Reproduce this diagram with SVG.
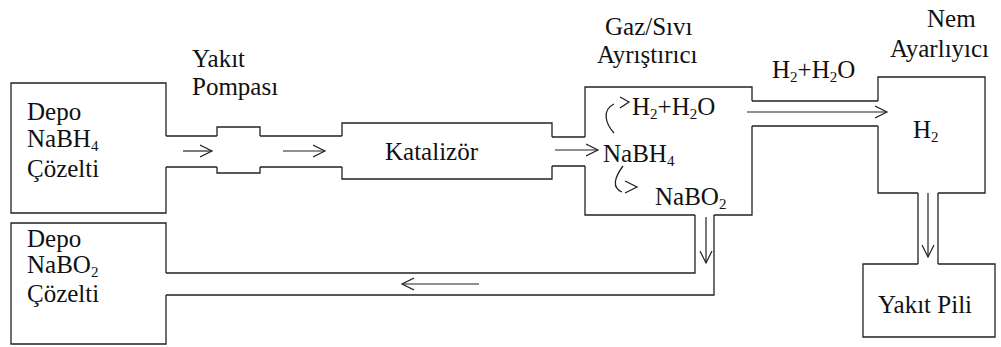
<svg xmlns="http://www.w3.org/2000/svg" width="1001" height="347" viewBox="0 0 1001 347">
  <style>
    .edge { fill: none; stroke: #222; stroke-width: 1.3; }
    .flow { fill: none; stroke: #222; stroke-width: 1.2; marker-end: url(#chev); }
    .lbl { font-family: 'Liberation Serif', 'DejaVu Serif', serif; font-size: 25px; fill: #111; }
    .sub { font-size: 15px; }
  </style>
  <defs>
    <marker id="chev" markerUnits="userSpaceOnUse" markerWidth="14" markerHeight="14" refX="12" refY="6" orient="auto" viewBox="0 0 14 12">
      <path d="M0,0 L12,6 L0,12" fill="none" stroke="#222" stroke-width="1.2"/>
    </marker>
  </defs>
  <rect width="1001" height="347" fill="#fff"/>

  <!-- NaBH4 storage tank -->
  <g id="depo-nabh4" class="lbl">
    <path class="edge" d="M166,136 V83 H11 V213 H166 V167"/>
    <text x="27" y="120">Depo</text>
    <text x="27" y="147">NaBH<tspan class="sub" dy="4">4</tspan></text>
    <text x="27" y="177">Çözelti</text>
  </g>

  <!-- fuel pump -->
  <g id="pump" class="lbl">
    <path class="edge" d="M217,136 V127 H260 V136 M217,167 V173 H260 V167"/>
    <text x="192" y="67">Yakıt</text>
    <text x="192" y="95">Pompası</text>
  </g>

  <!-- catalyst -->
  <g id="catalyst" class="lbl">
    <path class="edge" d="M342,136 V123 H552 V137 M342,167 V179 H552 V166"/>
    <text x="385" y="160">Katalizör</text>
  </g>

  <!-- gas/liquid separator -->
  <g id="separator" class="lbl">
    <path class="edge" d="M585,137 V87 H752 V101 M752,126 V215 H714 M695,215 H585 V166"/>
    <text x="605" y="35">Gaz/Sıvı</text>
    <text x="597" y="63">Ayrıştırıcı</text>
    <text x="632" y="115">H<tspan class="sub" dy="4">2</tspan><tspan dy="-4">+H</tspan><tspan class="sub" dy="4">2</tspan><tspan dy="-4">O</tspan></text>
    <text x="603" y="162">NaBH<tspan class="sub" dy="4">4</tspan></text>
    <text x="655" y="205">NaBO<tspan class="sub" dy="4">2</tspan></text>
    <path class="edge" d="M614,133 C605,123 602,110 614,104"/>
    <path class="edge" d="M620,97 L629,102 L620,108"/>
    <path class="edge" d="M623,166 C614,178 612,188 622,192"/>
    <path class="edge" d="M625,181 L637,187 L625,193"/>
  </g>

  <!-- humidity regulator -->
  <g id="humidifier" class="lbl">
    <path class="edge" d="M878,101 V77 H985 V193 H938 M918,193 H878 V126"/>
    <text x="927" y="27">Nem</text>
    <text x="890" y="57">Ayarlıyıcı</text>
    <text x="913" y="138">H<tspan class="sub" dy="4">2</tspan></text>
  </g>

  <!-- fuel cell -->
  <g id="fuel-cell" class="lbl">
    <path class="edge" d="M918,264 H863 V337 H995 V264 H938"/>
    <text x="878" y="313">Yakıt Pili</text>
  </g>

  <!-- NaBO2 storage tank -->
  <g id="depo-nabo2" class="lbl">
    <path class="edge" d="M166,273 V223 H11 V344 H166 V295"/>
    <text x="27" y="247">Depo</text>
    <text x="27" y="273">NaBO<tspan class="sub" dy="4">2</tspan></text>
    <text x="27" y="302">Çözelti</text>
  </g>

  <!-- pipes and flow arrows -->
  <g id="connectors" class="lbl">
    <path class="edge" d="M166,136 H217 M166,167 H217 M260,136 H342 M260,167 H342 M552,137 H585 M552,166 H585"/>
    <path class="edge" d="M752,101 H878 M752,126 H878"/>
    <path class="edge" d="M918,193 V264 M938,193 V264"/>
    <path class="edge" d="M695,215 V273 H166 M714,215 V295 H166"/>
    <path class="flow" d="M183,151 H212"/>
    <path class="flow" d="M283,151 H325"/>
    <path class="flow" d="M555,150 H598"/>
    <path class="flow" d="M747,112 H887"/>
    <path class="flow" d="M706,217 V263"/>
    <path class="flow" d="M479,284 H402"/>
    <path class="flow" d="M928,193 V257"/>
    <text x="772" y="78">H<tspan class="sub" dy="4">2</tspan><tspan dy="-4">+H</tspan><tspan class="sub" dy="4">2</tspan><tspan dy="-4">O</tspan></text>
  </g>
</svg>
